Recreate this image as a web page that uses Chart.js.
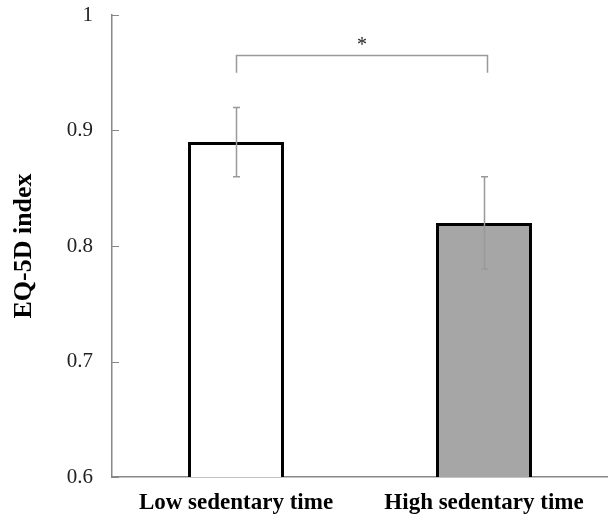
<!DOCTYPE html>
<html>
<head>
<meta charset="utf-8">
<script src="https://cdn.jsdelivr.net/npm/chart.js@4"></script>
<style>
  html, body { margin: 0; padding: 0; background: #fff; }
  #wrap { width: 608px; height: 516px; }
</style>
</head>
<body>
<div id="wrap"><canvas id="eqChart"></canvas></div>
<script>
// Data
const groups = ['Low sedentary time', 'High sedentary time'];
const eqIndex = [0.89, 0.82];
const errLow = [0.86, 0.78];
const errHigh = [0.92, 0.86];
const barFill = ['#ffffff', '#a6a6a6'];
const yTicks = [0.6, 0.7, 0.8, 0.9, 1];
// significance bracket: top level, leg end level, label
const sigTop = [0.965];
const sigLeg = [0.95];
const sigLabel = ['*'];

const serif = "'Liberation Serif', 'Times New Roman', serif";

// error bars, bracket and inside tick marks
const extrasPlugin = {
    id: 'extras',
    afterDatasetsDraw(chart) {
        const ctx = chart.ctx;
        const x = chart.scales.x, y = chart.scales.y;
        ctx.save();

        // inside ticks on the y axis
        ctx.strokeStyle = '#888';
        ctx.lineWidth = 1;
        yTicks.forEach(v => {
            const py = Math.round(y.getPixelForValue(v)) + 0.5;
            ctx.beginPath();
            ctx.moveTo(x.left, py);
            ctx.lineTo(x.left + 7, py);
            ctx.stroke();
        });

        // error bars
        ctx.strokeStyle = '#999';
        ctx.lineWidth = 1.5;
        const meta = chart.getDatasetMeta(0);
        meta.data.forEach((bar, i) => {
            const px = Math.round(bar.x) + 0.5;
            const t = y.getPixelForValue(errHigh[i]);
            const b = y.getPixelForValue(errLow[i]);
            ctx.beginPath();
            ctx.moveTo(px, t); ctx.lineTo(px, b);
            ctx.moveTo(px - 3.5, t); ctx.lineTo(px + 3.5, t);
            ctx.moveTo(px - 3.5, b); ctx.lineTo(px + 3.5, b);
            ctx.stroke();
        });

        // significance bracket
        const x1 = Math.round(meta.data[0].x) + 0.5;
        const x2 = Math.round(meta.data[1].x) + 3.5;
        const yt = Math.round(y.getPixelForValue(sigTop[0])) + 0.5;
        const yl = y.getPixelForValue(sigLeg[0]);
        ctx.strokeStyle = '#999';
        ctx.lineWidth = 1.5;
        ctx.beginPath();
        ctx.moveTo(x1, yl); ctx.lineTo(x1, yt); ctx.lineTo(x2, yt); ctx.lineTo(x2, yl);
        ctx.stroke();
        ctx.fillStyle = '#222';
        ctx.font = '20px ' + serif;
        ctx.textAlign = 'center';
        ctx.textBaseline = 'middle';
        ctx.fillText(sigLabel[0], (x1 + x2) / 2, yt - 10);

        ctx.restore();
    }
};

new Chart(document.getElementById('eqChart'), {
    type: 'bar',
    data: {
        labels: groups,
        datasets: [{
            data: eqIndex,
            backgroundColor: barFill,
            borderColor: '#000',
            borderWidth: 3,
            borderSkipped: false,
            barPercentage: 0.387,
            categoryPercentage: 1
        }]
    },
    options: {
        responsive: true,
        maintainAspectRatio: false,
        animation: false,
        layout: { padding: { left: 0, right: 0, top: 15, bottom: 0 } },
        plugins: {
            legend: { display: false },
            tooltip: { enabled: false }
        },
        scales: {
            x: {
                grid: { display: false, drawTicks: false },
                border: { display: true, color: '#888', width: 1.5 },
                afterFit(scale) {
                    scale.height = 39;
                    scale.paddingLeft = 0;
                    scale.paddingRight = 0;
                },
                ticks: {
                    padding: 12,
                    color: '#000',
                    font: { family: serif, size: 23, weight: 'bold' }
                }
            },
            y: {
                min: 0.6,
                max: 1,
                grid: { display: false, drawTicks: false },
                border: { display: true, color: '#888', width: 1.5 },
                afterBuildTicks(scale) {
                    scale.ticks = yTicks.map(v => ({ value: v }));
                },
                afterFit(scale) {
                    scale.width = 112;
                    scale.paddingTop = 0;
                    scale.paddingBottom = 0;
                },
                ticks: {
                    padding: 19,
                    color: '#222',
                    font: { family: serif, size: 21 },
                    callback: v => (v === 1 ? '1' : v.toFixed(1))
                },
                title: {
                    display: true,
                    text: 'EQ-5D index',
                    color: '#000',
                    font: { family: serif, size: 26, weight: 'bold' },
                    padding: { top: 9, bottom: 0 }
                }
            }
        }
    },
    plugins: [extrasPlugin]
});
</script>
</body>
</html>
